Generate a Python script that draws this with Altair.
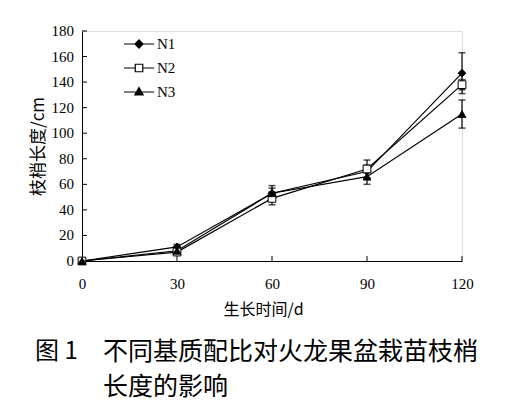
import altair as alt
import pandas as pd

# growth days and shoot length (cm) per substrate ratio
days = [0, 30, 60, 90, 120]
series = ['N1', 'N2', 'N3']
n1 = [0, 11, 53, 70, 147]
n1_err = [0, 2, 6, 5, 16]
n2 = [0, 7, 49, 72, 138]
n2_err = [0, 2, 5, 7, 4]
n3 = [0, 8, 53, 66, 115]
n3_err = [0, 2, 4, 6, 11]

y_ticks = [0, 20, 40, 60, 80, 100, 120, 140, 160, 180]
x_ticks = [30, 60, 90, 120]

rows = []
for name, vals, errs in zip(series, [n1, n2, n3], [n1_err, n2_err, n3_err]):
    for d, v, e in zip(days, vals, errs):
        rows.append({'day': d, 'len': v, 'lo': v - e, 'hi': v + e, 'series': name})
df = pd.DataFrame(rows)

serif = 'Liberation Serif'
cjk = 'Noto Sans CJK SC'

x = alt.X('day:Q', scale=alt.Scale(domain=[0, 120]),
          axis=alt.Axis(values=[0] + x_ticks, title='生长时间/d', ticks=False, grid=False,
                        labelFont=serif, labelFontSize=15, labelPadding=15, labelColor='black',
                        labelOverlap=False, labelFlush=False, domainColor='black',
                        titleFont=cjk, titleFontSize=16,
                        titleFontWeight='normal', titleColor='black',
                        titleX=181, titleY=48, titleBaseline='middle'))
y = alt.Y('len:Q', scale=alt.Scale(domain=[0, 180]),
          axis=alt.Axis(values=y_ticks, title='枝梢长度/cm', ticks=False, grid=False, labels=False,
                        domainColor='black', titleFont=cjk, titleFontSize=17,
                        titleFontWeight='normal', titleColor='black',
                        titleX=-44, titleY=115, titleAlign='center', titleBaseline='middle'))

base = alt.Chart(df)

lines = base.mark_line(color='black', strokeWidth=1.2).encode(x=x, y=y, detail='series:N')

bars = base.mark_rule(color='black', strokeWidth=1.2).encode(x='day:Q', y='lo:Q', y2='hi:Q')
cap_lo = base.mark_tick(orient='horizontal', color='black', size=7, thickness=1.5).encode(
    x='day:Q', y='lo:Q')
cap_hi = base.mark_tick(orient='horizontal', color='black', size=7, thickness=1.5).encode(
    x='day:Q', y='hi:Q')

points = base.mark_point(filled=True, stroke='black', strokeWidth=1, opacity=1, size=60).encode(
    x='day:Q', y='len:Q',
    shape=alt.Shape('series:N', scale=alt.Scale(domain=series, range=['diamond', 'square', 'triangle-up']),
                    legend=None),
    fill=alt.Fill('series:N', scale=alt.Scale(domain=series, range=['black', 'white', 'black']),
                  legend=None),
)

# legend symbols: a line with the marker in the middle; filled markers are
# drawn as nested outlines so a stroke-only symbol looks solid
legend_paths = [
    'M-1,0H1M0,-0.27L0.27,0L0,0.27L-0.27,0ZM0,-0.18L0.18,0L0,0.18L-0.18,0Z'
    'M0,-0.09L0.09,0L0,0.09L-0.09,0Z',
    'M-1,0H-0.25M0.25,0H1M-0.25,-0.25H0.25V0.25H-0.25Z',
    'M-1,0H1M0,-0.3L0.28,0.2L-0.28,0.2ZM0,-0.18L0.17,0.13L-0.17,0.13Z'
    'M0,-0.07L0.07,0.07L-0.07,0.07Z',
]
leg = alt.Legend(title=None, orient='none', legendX=41, legendY=-3, padding=0,
                 symbolSize=900, symbolStrokeWidth=1.2, symbolStrokeColor='black',
                 symbolOpacity=1, labelFont=serif, labelFontSize=15, labelColor='black',
                 labelOffset=2, rowPadding=0)
legend_layer = base.transform_filter('datum.day < 0').mark_point(
    filled=False, color='black', strokeWidth=1.2).encode(
    x='day:Q', y='len:Q',
    shape=alt.Shape('series:N', scale=alt.Scale(domain=series, range=legend_paths), legend=leg),
)

tick_df = pd.DataFrame({'v': y_ticks})
xtick_df = pd.DataFrame({'d': x_ticks})
yticks = alt.Chart(tick_df).mark_rule(color='black').encode(
    y='v:Q', x=alt.value(0), x2=alt.value(5))
ylabels = alt.Chart(tick_df).mark_text(
    font=serif, fontSize=15, align='right', baseline='middle', color='black').encode(
    y='v:Q', text='v:Q', x=alt.value(-8))
xticks = alt.Chart(xtick_df).mark_rule(color='black').encode(
    x='d:Q', y=alt.value(230), y2=alt.value(225))

cap1 = alt.Chart(pd.DataFrame({'t': ['图 1']})).mark_text(
    font=cjk, fontSize=24, align='left', baseline='middle', color='black').encode(
    text='t:N', x=alt.value(-47), y=alt.value(321))
cap2 = alt.Chart(pd.DataFrame({'t': ['不同基质配比对火龙果盆栽苗枝梢']})).mark_text(
    font=cjk, fontSize=25, align='left', baseline='middle', color='black').encode(
    text='t:N', x=alt.value(21), y=alt.value(321))
cap3 = alt.Chart(pd.DataFrame({'t': ['长度的影响']})).mark_text(
    font=cjk, fontSize=25, align='left', baseline='middle', color='black').encode(
    text='t:N', x=alt.value(21), y=alt.value(356))

chart = alt.layer(
    lines, bars, cap_lo, cap_hi, points, legend_layer, yticks, ylabels, xticks, cap1, cap2, cap3
).resolve_scale(
    shape='independent', fill='independent'
).properties(
    width=380, height=230, autosize='none',
    padding={'left': 74, 'top': 23, 'right': 58, 'bottom': 148}
).configure_view(stroke=None).configure(background='white')

chart.save('out.html', embed_options={'renderer': 'svg', 'actions': False})
